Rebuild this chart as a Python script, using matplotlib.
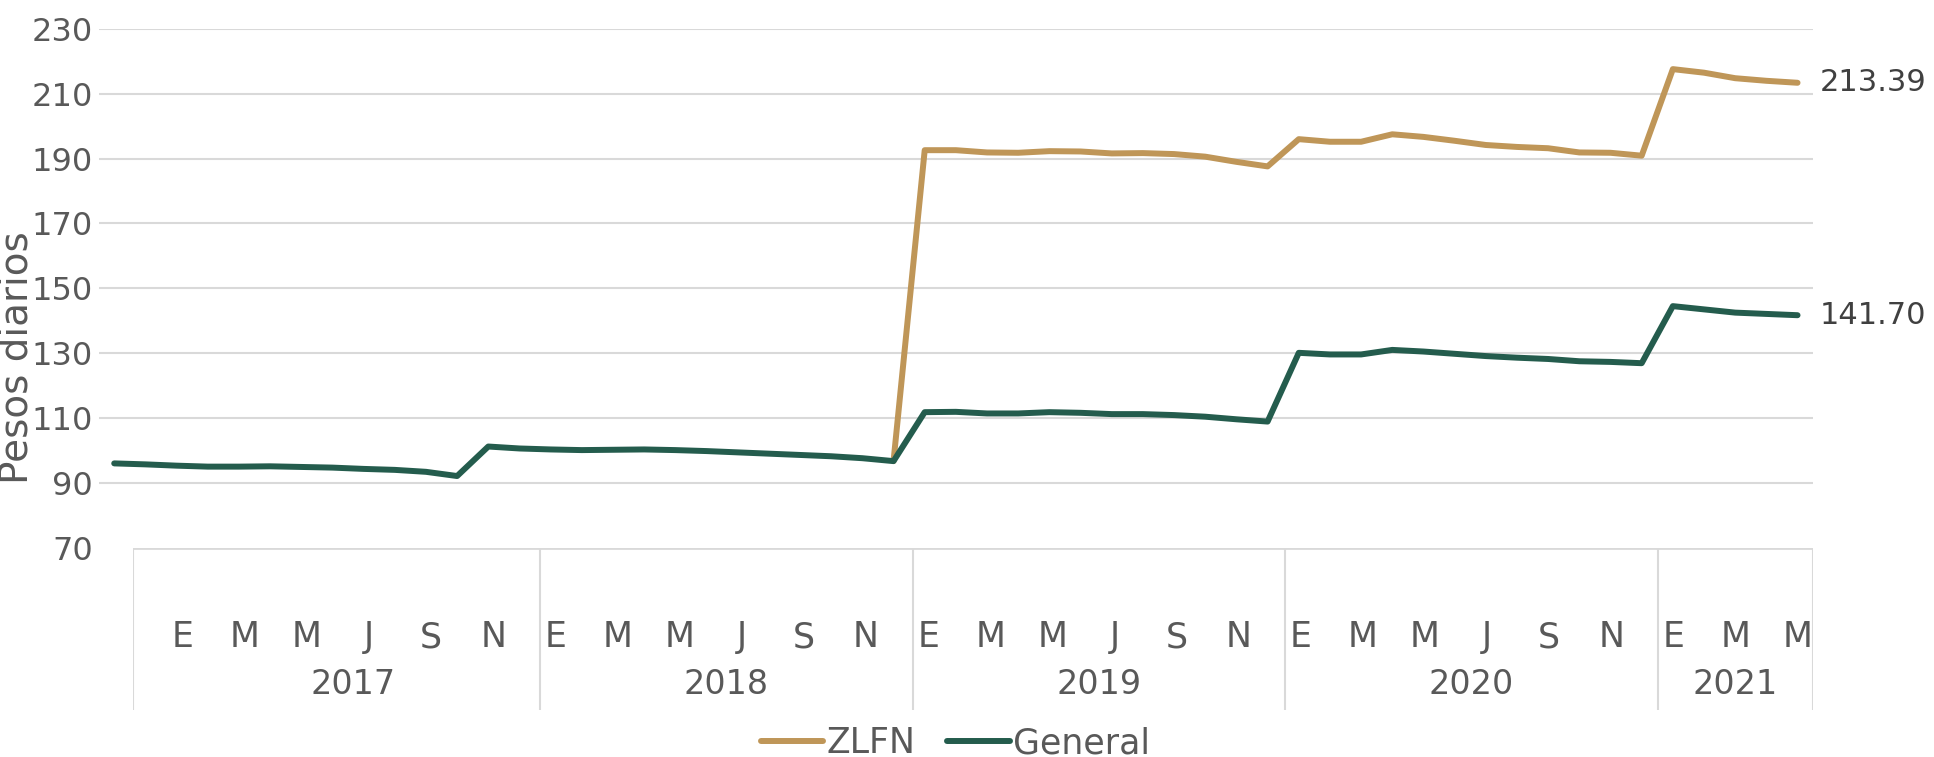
import numpy as np
import matplotlib
matplotlib.use('Agg')
from matplotlib import pyplot as plt

plt.rcParams['font.family'] = ['DejaVu Sans']

years = ['2017', '2018', '2019', '2020', '2021']
months_per_year = [12, 12, 12, 12, 5]
month_letters = ['E', 'F', 'M', 'A', 'M', 'J', 'J', 'A', 'S', 'O', 'N', 'D']

# series as plotted (55 entries, evenly spaced)
general = [96.0, 95.7, 95.3, 95.0, 95.0, 95.1, 94.9, 94.7, 94.3, 94.0, 93.4, 92.1,
           101.2, 100.6, 100.3, 100.1, 100.2, 100.3, 100.1, 99.8, 99.4, 99.0, 98.6, 98.2, 97.6, 96.7,
           111.8, 111.9, 111.4, 111.4, 111.8, 111.6, 111.2, 111.2, 110.9, 110.4, 109.6, 108.9,
           130.1, 129.6, 129.6, 131.0, 130.5, 129.8, 129.1, 128.6, 128.2, 127.5, 127.3, 126.9,
           144.5, 143.5, 142.5, 142.1, 141.70]

zlfn = [None] * 25 + [96.7,
        192.6, 192.6, 191.9, 191.8, 192.3, 192.2, 191.6, 191.7, 191.4, 190.6, 189.0, 187.6,
        196.0, 195.2, 195.2, 197.5, 196.7, 195.5, 194.2, 193.6, 193.2, 191.9, 191.8, 190.9,
        217.6, 216.5, 214.8, 214.0, 213.39]

gold = '#BF9658'
green = '#245C4D'
grid_c = '#D9D9D9'
txt_c = '#595959'

x = np.arange(len(general))
zl = np.array([np.nan if v is None else v for v in zlfn])

fig = plt.figure(figsize=(19.34, 7.57), dpi=100)
ax = fig.add_axes([0.051, 0.2765, 0.8865, 0.6853])
tab = fig.add_axes([0.0688, 0.062, 0.8687, 0.2145])

ax.plot(x, zl, color=gold, lw=4.3, label='ZLFN', solid_capstyle='round', zorder=3)
ax.plot(x, general, color=green, lw=4.3, label='General', solid_capstyle='round', zorder=4)

ax.annotate(f'{zlfn[-1]:.2f}', (x[-1], zlfn[-1]), xytext=(16, 0), textcoords='offset points',
            va='center', ha='left', fontsize=22, color='#404040', annotation_clip=False)
ax.annotate(f'{general[-1]:.2f}', (x[-1], general[-1]), xytext=(16, 0), textcoords='offset points',
            va='center', ha='left', fontsize=22, color='#404040', annotation_clip=False)

ax.set_xlim(-0.5, len(x) - 0.5)
ax.set_ylim(70, 230)
ax.set_yticks(np.arange(70, 231, 20))
ax.tick_params(axis='y', length=0, pad=4, labelsize=23, labelcolor=txt_c)
ax.set_xticks([])
ax.grid(axis='y', color=grid_c, lw=1.5)
ax.yaxis.get_gridlines()[0].set_visible(False)
ax.set_axisbelow(True)
for s in ax.spines.values():
    s.set_visible(False)

fig.text(0.0085, 0.527, 'Pesos diarios', rotation=90, va='center', ha='center',
         fontsize=28, color=txt_c)

# category table under the plot
n_months = sum(months_per_year)
tab.set_xlim(n_months - 0.5 - 54.1, n_months - 0.5)
tab.set_ylim(0, 1)
tab.axis('off')
tab.axhline(1, color=grid_c, lw=2)
start = 0
bounds = [tab.get_xlim()[0]]
for yr, n in zip(years, months_per_year):
    for m in range(0, n, 2):
        tab.text(start + m, 0.447, month_letters[m], ha='center', va='center',
                 fontsize=25, color=txt_c)
    tab.text(start + (n - 1) / 2, 0.16, yr, ha='center', va='center', fontsize=24, color=txt_c)
    start += n
    bounds.append(start - 0.5)
for b in bounds:
    tab.axvline(b, color=grid_c, lw=1.5)

fig.legend(loc='center', bbox_to_anchor=(0.494, 0.018), ncol=2, frameon=False,
           fontsize=25, labelcolor=txt_c, handlelength=1.8, handletextpad=0.1,
           columnspacing=0.9, borderaxespad=0)

fig.savefig('out.png', dpi=100)
